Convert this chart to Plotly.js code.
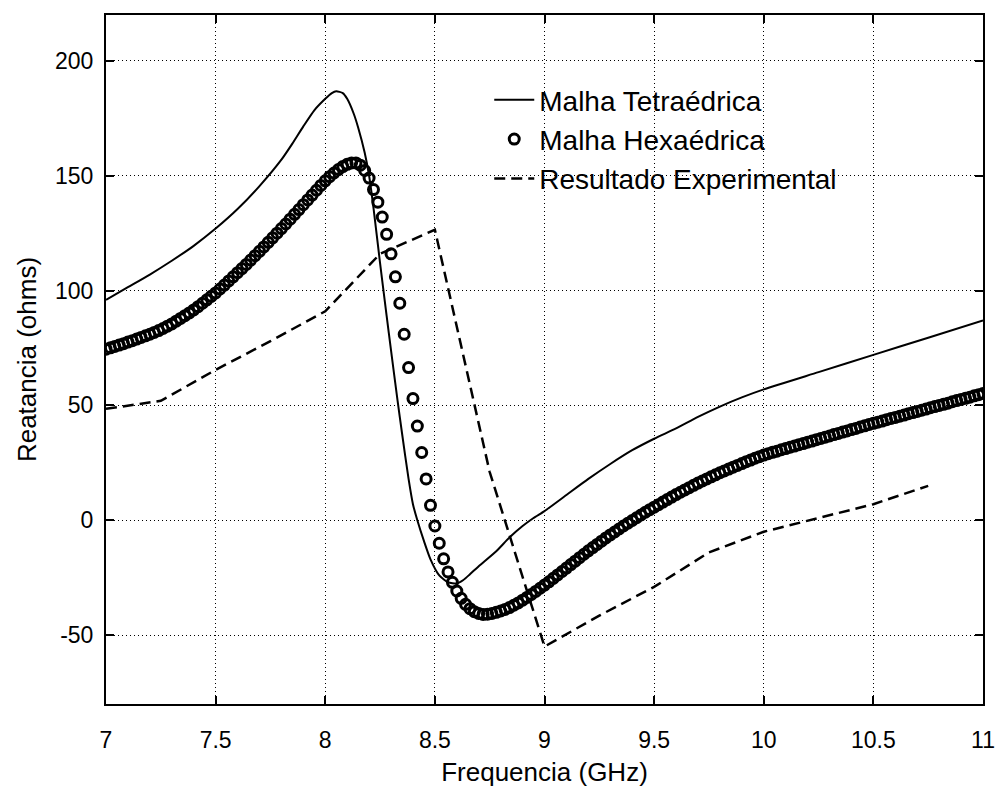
<!DOCTYPE html>
<html>
<head>
<meta charset="utf-8">
<script src="https://cdn.plot.ly/plotly-3.0.1.min.js"></script>
<style>html,body{margin:0;padding:0;background:#fff;}</style>
</head>
<body>
<div id="chart" style="width:996px;height:787px;"></div>
<script>
// Malha Tetraédrica (solid line)
var freqTetra = [7.0, 7.1, 7.2, 7.3, 7.4, 7.5, 7.6, 7.7, 7.8, 7.85, 7.9, 7.95, 8.0, 8.03, 8.05, 8.08, 8.1, 8.13, 8.15, 8.18, 8.2, 8.22, 8.25, 8.28, 8.3, 8.33, 8.35, 8.38, 8.4, 8.42, 8.45, 8.48, 8.52, 8.56, 8.6, 8.63, 8.66, 8.7, 8.78, 8.84, 8.9, 8.95, 9.0, 9.1, 9.2, 9.3, 9.4, 9.5, 9.6, 9.7, 9.8, 9.9, 10.0, 10.25, 10.5, 10.75, 11.0];
var reatTetra = [96, 101.5, 107, 113, 119.5, 127, 135.5, 145.5, 157, 164, 171.5, 178.5, 183.5, 186, 186.8, 186, 183.5, 177, 171, 160, 150, 136, 112, 89, 74, 52, 38, 18, 7, 0, -9, -17, -24, -27, -27.5, -26, -23.5, -20, -13.5, -7.5, -2.5, 1, 4, 11, 18, 24.5, 30.5, 35.5, 40, 45, 49.5, 53.5, 57, 64.5, 72, 79.5, 87];

// Malha Hexaédrica (open circles)
var freqHexa = [7.00, 7.02, 7.04, 7.06, 7.08, 7.10, 7.12, 7.14, 7.16, 7.18, 7.20, 7.22, 7.24, 7.26, 7.28, 7.30, 7.32, 7.34, 7.36, 7.38, 7.40, 7.42, 7.44, 7.46, 7.48, 7.50, 7.52, 7.54, 7.56, 7.58, 7.60, 7.62, 7.64, 7.66, 7.68, 7.70, 7.72, 7.74, 7.76, 7.78, 7.80, 7.82, 7.84, 7.86, 7.88, 7.90, 7.92, 7.94, 7.96, 7.98, 8.00, 8.02, 8.04, 8.06, 8.08, 8.10, 8.12, 8.14, 8.16, 8.18, 8.20, 8.22, 8.24, 8.26, 8.28, 8.30, 8.32, 8.34, 8.36, 8.38, 8.40, 8.42, 8.44, 8.46, 8.48, 8.50, 8.52, 8.54, 8.56, 8.58, 8.60, 8.62, 8.64, 8.66, 8.68, 8.70, 8.72, 8.74, 8.76, 8.78, 8.80, 8.82, 8.84, 8.86, 8.88, 8.90, 8.92, 8.94, 8.96, 8.98, 9.00, 9.02, 9.04, 9.06, 9.08, 9.10, 9.12, 9.14, 9.16, 9.18, 9.20, 9.22, 9.24, 9.26, 9.28, 9.30, 9.32, 9.34, 9.36, 9.38, 9.40, 9.42, 9.44, 9.46, 9.48, 9.50, 9.52, 9.54, 9.56, 9.58, 9.60, 9.62, 9.64, 9.66, 9.68, 9.70, 9.72, 9.74, 9.76, 9.78, 9.80, 9.82, 9.84, 9.86, 9.88, 9.90, 9.92, 9.94, 9.96, 9.98, 10.00, 10.02, 10.04, 10.06, 10.08, 10.10, 10.12, 10.14, 10.16, 10.18, 10.20, 10.22, 10.24, 10.26, 10.28, 10.30, 10.32, 10.34, 10.36, 10.38, 10.40, 10.42, 10.44, 10.46, 10.48, 10.50, 10.52, 10.54, 10.56, 10.58, 10.60, 10.62, 10.64, 10.66, 10.68, 10.70, 10.72, 10.74, 10.76, 10.78, 10.80, 10.82, 10.84, 10.86, 10.88, 10.90, 10.92, 10.94, 10.96, 10.98, 11.00];
var reatHexa = [74.5, 75.1, 75.7, 76.3, 76.9, 77.6, 78.2, 78.9, 79.6, 80.3, 81.0, 81.8, 82.6, 83.5, 84.5, 85.5, 86.7, 87.9, 89.1, 90.3, 91.6, 93.0, 94.5, 96.0, 97.5, 99.0, 100.7, 102.4, 104.2, 106.0, 107.8, 109.6, 111.4, 113.3, 115.2, 117.1, 119.0, 121.0, 123.0, 125.0, 127.0, 129.0, 131.1, 133.2, 135.3, 137.4, 139.5, 141.6, 143.7, 145.8, 147.8, 149.6, 151.2, 152.7, 154.0, 155.0, 155.6, 155.6, 154.6, 152.3, 149.0, 144.0, 138.5, 132.0, 124.5, 116.0, 106.0, 94.5, 81.0, 66.5, 53.0, 41.0, 29.5, 18.0, 6.5, -2.5, -10.0, -16.8, -22.5, -27.0, -30.8, -34.0, -36.6, -38.5, -39.8, -40.6, -41.0, -40.9, -40.6, -40.1, -39.5, -38.8, -38.0, -37.0, -36.0, -34.8, -33.6, -32.3, -31.0, -29.6, -28.2, -26.8, -25.3, -23.8, -22.3, -20.8, -19.3, -17.8, -16.3, -14.8, -13.3, -11.9, -10.5, -9.1, -7.7, -6.4, -5.1, -3.8, -2.5, -1.3, -0.1, 1.1, 2.3, 3.5, 4.6, 5.7, 6.8, 7.9, 9.0, 10.1, 11.2, 12.2, 13.2, 14.2, 15.2, 16.2, 17.1, 18.0, 18.9, 19.8, 20.7, 21.5, 22.3, 23.1, 23.9, 24.7, 25.5, 26.2, 27.0, 27.7, 28.4, 29.0, 29.6, 30.1, 30.7, 31.2, 31.8, 32.3, 32.9, 33.4, 34.0, 34.5, 35.1, 35.6, 36.2, 36.7, 37.3, 37.8, 38.4, 38.9, 39.5, 40.0, 40.6, 41.1, 41.7, 42.2, 42.7, 43.2, 43.8, 44.3, 44.8, 45.3, 45.8, 46.4, 46.9, 47.4, 47.9, 48.4, 49.0, 49.5, 50.0, 50.5, 51.0, 51.6, 52.1, 52.6, 53.1, 53.6, 54.2, 54.7, 55.2];

// Resultado Experimental (dashed line)
var freqExp = [7.0, 7.25, 7.5, 7.75, 8.0, 8.25, 8.5, 8.75, 9.0, 9.25, 9.5, 9.75, 10.0, 10.25, 10.5, 10.75];
var reatExp = [48.5, 52, 65.5, 78, 91, 116, 126.5, 21, -55, -41.5, -29, -14, -5, 1, 7, 15];

var xTicks = [7, 7.5, 8, 8.5, 9, 9.5, 10, 10.5, 11];
var xTickText = ["7", "7.5", "8", "8.5", "9", "9.5", "10", "10.5", "11"];
var yTicks = [-50, 0, 50, 100, 150, 200];
var yTickText = ["-50", "0", "50", "100", "150", "200"];

var seriesNames = ["Malha Tetraédrica", "Malha Hexaédrica", "Resultado Experimental"];

var FONT = "Liberation Sans, Arial, Helvetica, sans-serif";

var traces = [
  {
    x: freqTetra, y: reatTetra, name: seriesNames[0], type: "scatter", mode: "lines",
    line: {color: "#000", width: 2, shape: "spline", smoothing: 0.6}
  },
  {
    x: freqHexa, y: reatHexa, name: seriesNames[1], type: "scatter", mode: "markers",
    marker: {symbol: "circle-open", size: 10, color: "#000", line: {color: "#000", width: 3}}
  },
  {
    x: freqExp, y: reatExp, name: seriesNames[2], type: "scatter", mode: "lines",
    line: {color: "#000", width: 2.5, dash: "11px,6px"}
  }
];

var axisCommon = {
  ticks: "inside", ticklen: 8, tickwidth: 2, tickcolor: "#000",
  showline: true, linewidth: 2, linecolor: "#000", mirror: "ticks",
  showgrid: true, gridcolor: "#000", gridwidth: 1, griddash: "1px,3px",
  zeroline: false,
  tickfont: {family: FONT, size: 23, color: "#000"}
};

var layout = {
  width: 996, height: 787,
  paper_bgcolor: "#fff", plot_bgcolor: "#fff",
  margin: {l: 106, r: 13, t: 15, b: 83},
  showlegend: true,
  legend: {
    x: 0.437, y: 0.913, xanchor: "left", yanchor: "top",
    bgcolor: "rgba(0,0,0,0)", borderwidth: 0,
    font: {family: FONT, size: 28, color: "#000"},
    itemwidth: 40, tracegroupgap: 0
  },
  xaxis: Object.assign({}, axisCommon, {
    range: [7, 11], tickvals: xTicks, ticktext: xTickText, ticklabelstandoff: 14,
    title: {text: "Frequencia (GHz)", font: {family: FONT, size: 26, color: "#000"}, standoff: 12}
  }),
  yaxis: Object.assign({}, axisCommon, {
    range: [-80, 220], tickvals: yTicks, ticktext: yTickText, ticklabelstandoff: 6,
    title: {text: "Reatancia (ohms)", font: {family: FONT, size: 26, color: "#000"}, standoff: 11}
  })
};

Plotly.newPlot("chart", traces, layout, {displayModeBar: false, staticPlot: true});
</script>
</body>
</html>
